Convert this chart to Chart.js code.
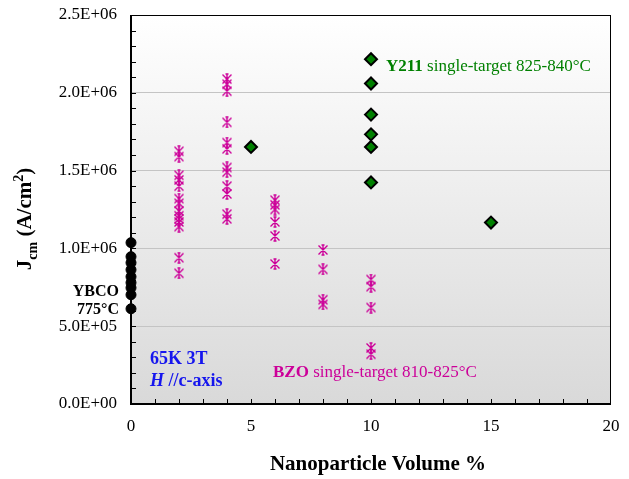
<!DOCTYPE html>
<html><head><meta charset="utf-8">
<script src="https://cdn.jsdelivr.net/npm/chart.js@4/dist/chart.umd.min.js"></script>
<style>html,body{margin:0;padding:0;background:#fff}#wrap{width:629px;height:479px}</style>
</head><body><div id="wrap"><canvas id="c" width="629" height="479"></canvas></div>
<script>
// ---- data ----
const ybcoX = [0,0,0,0,0,0,0,0,0];
const ybcoJc = [1.037e6,0.947e6,0.908e6,0.863e6,0.818e6,0.78e6,0.747e6,0.702e6,0.612e6];

const bzoX = [2,2,2,2,2,2,2,2,2,2,2,2,2,2,
              4,4,4,4,4,4,4,4,4,4,4,4,
              6,6,6,6,6,6,
              8,8,8,8,
              10,10,10,10,10];
const bzoJc = [1.624e6,1.59e6,1.47e6,1.44e6,1.40e6,1.32e6,1.29e6,1.24e6,1.21e6,1.19e6,1.17e6,1.14e6,0.94e6,0.84e6,
               2.088e6,2.055e6,2.01e6,1.81e6,1.68e6,1.64e6,1.52e6,1.49e6,1.40e6,1.35e6,1.22e6,1.19e6,
               1.31e6,1.28e6,1.25e6,1.17e6,1.08e6,0.90e6,
               0.99e6,0.865e6,0.67e6,0.64e6,
               0.80e6,0.754e6,0.62e6,0.36e6,0.32e6];

const y211X = [5,10,10,10,10,10,10,15];
const y211Jc = [1.652e6,2.216e6,2.06e6,1.86e6,1.733e6,1.652e6,1.424e6,1.166e6];

const xTicks = [0,5,10,15,20];
const yTicks = [0,0.5e6,1.0e6,1.5e6,2.0e6,2.5e6];

const SERIF = '"Liberation Serif","Times New Roman",serif';
const BZO_COLOR = '#cc0099';
const Y211_COLOR = '#008000';

function pairs(xs, ys){ return xs.map((x,i)=>({x:x, y:ys[i]})); }
function fmtExp(v){
  if (v === 0) return '0.0E+00';
  const e = Math.floor(Math.log10(v));
  const m = v/Math.pow(10,e);
  return m.toFixed(1)+'E+'+String(e).padStart(2,'0');
}

function makeStar(){
  const c = document.createElement('canvas');
  c.width = 12; c.height = 12;
  const g = c.getContext('2d');
  g.strokeStyle = BZO_COLOR; g.lineWidth = 1.4;
  g.beginPath();
  g.moveTo(1.5,1.5); g.lineTo(10.5,10.5);
  g.moveTo(10.5,1.5); g.lineTo(1.5,10.5);
  g.moveTo(6,0.5); g.lineTo(6,11.5);
  g.moveTo(4.5,1); g.lineTo(7.5,1);
  g.moveTo(4.5,11); g.lineTo(7.5,11);
  g.stroke();
  return c;
}
const star = makeStar();

const decor = {
  id:'decor',
  beforeDraw(chart){
    const {ctx, chartArea:a} = chart;
    const gr = ctx.createLinearGradient(0,a.top,0,a.bottom);
    gr.addColorStop(0,'#ffffff');
    gr.addColorStop(1,'#d9d9d9');
    ctx.save();
    ctx.fillStyle = gr;
    ctx.fillRect(a.left,a.top,a.right-a.left,a.bottom-a.top);
    ctx.restore();
  },
  afterDraw(chart){
    const {ctx, chartArea:a, scales} = chart;
    const xs = scales.x, ys = scales.y;
    ctx.save();
    ctx.strokeStyle = '#000'; ctx.lineWidth = 1;
    ctx.strokeRect(Math.round(a.left)+0.5, Math.round(a.top)+0.5, Math.round(a.right-a.left)-1, Math.round(a.bottom-a.top)-1);
    ctx.lineWidth = 2;
    ctx.beginPath();
    ctx.moveTo(a.left, a.top); ctx.lineTo(a.left, a.bottom);
    ctx.lineTo(a.right, a.bottom);
    ctx.stroke();
    ctx.lineWidth = 1;
    ctx.beginPath();
    for (let v=1; v<20; v++){
      const px = Math.round(xs.getPixelForValue(v))+0.5;
      ctx.moveTo(px, a.bottom); ctx.lineTo(px, a.bottom-5);
    }
    for (let k=1; k<25; k++){
      const py = Math.round(ys.getPixelForValue(k*1e5))+0.5;
      ctx.moveTo(a.left, py); ctx.lineTo(a.left+5, py);
    }
    ctx.stroke();

    ctx.fillStyle = '#000';
    ctx.textBaseline = 'middle';
    ctx.font = 'bold 21px '+SERIF;
    ctx.textAlign = 'center';
    ctx.fillText('Nanoparticle Volume %', 378, 465);

    ctx.save();
    ctx.translate(24, 219);
    ctx.rotate(-Math.PI/2);
    const big = 'bold 21px '+SERIF, small = 'bold 14px '+SERIF;
    const parts = [['J',big,0],['cm',small,6],[' (A/cm',big,0],['2',small,-8],[')',big,0]];
    let total = 0;
    parts.forEach(p=>{ ctx.font=p[1]; total += ctx.measureText(p[0]).width; });
    let x0 = -total/2;
    ctx.textAlign = 'left';
    ctx.textBaseline = 'alphabetic';
    parts.forEach(p=>{ ctx.font=p[1]; ctx.fillText(p[0], x0, 7+p[2]); x0 += ctx.measureText(p[0]).width; });
    ctx.restore();

    ctx.textAlign = 'right';
    ctx.textBaseline = 'middle';
    ctx.font = 'bold 16px '+SERIF;
    ctx.fillText('YBCO', 119, 292);
    ctx.fillText('775°C', 119, 310);

    ctx.textAlign = 'left';
    ctx.fillStyle = '#1515ee';
    ctx.font = 'bold 18px '+SERIF;
    ctx.fillText('65K 3T', 150, 359);
    ctx.font = 'bold italic 18px '+SERIF;
    ctx.fillText('H', 150, 381);
    let w = ctx.measureText('H').width;
    ctx.font = 'bold 18px '+SERIF;
    ctx.fillText(' //c-axis', 150+w, 381);

    ctx.fillStyle = BZO_COLOR;
    ctx.font = 'bold 17px '+SERIF;
    ctx.fillText('BZO', 273, 373);
    w = ctx.measureText('BZO').width;
    ctx.font = '17px '+SERIF;
    ctx.fillText(' single-target 810-825°C', 273+w, 373);

    ctx.fillStyle = Y211_COLOR;
    ctx.font = 'bold 17px '+SERIF;
    ctx.fillText('Y211', 386, 67);
    w = ctx.measureText('Y211').width;
    ctx.font = '17px '+SERIF;
    ctx.fillText(' single-target 825-840°C', 386+w, 67);
    ctx.restore();
  }
};

new Chart(document.getElementById('c'), {
  type:'scatter',
  data:{
    datasets:[
      {label:'YBCO', data:pairs(ybcoX,ybcoJc), pointStyle:'circle', pointRadius:5, backgroundColor:'#000', borderColor:'#000', borderWidth:1, clip:false},
      {label:'BZO', data:pairs(bzoX,bzoJc), pointStyle:star, pointRadius:6, clip:false},
      {label:'Y211', data:pairs(y211X,y211Jc), pointStyle:'rectRot', pointRadius:6, backgroundColor:Y211_COLOR, borderColor:'#000', borderWidth:2, clip:false}
    ]
  },
  options:{
    responsive:false, animation:false,
    layout:{autoPadding:false, padding:{top:15,right:18,left:0,bottom:0}},
    plugins:{legend:{display:false}, tooltip:{enabled:false}},
    scales:{
      x:{type:'linear', min:0, max:20,
         afterFit(s){ s.height = 75; s.paddingLeft = 0; s.paddingRight = 0; },
         afterBuildTicks(s){ s.ticks = xTicks.map(v=>({value:v})); },
         ticks:{font:{family:SERIF,size:17}, color:'#000', padding:12, maxRotation:0},
         grid:{display:false, drawTicks:false}, border:{display:false}},
      y:{type:'linear', min:0, max:2.5e6,
         afterFit(s){ s.width = 131; s.paddingTop = 0; s.paddingBottom = 0; },
         afterBuildTicks(s){ s.ticks = yTicks.map(v=>({value:v})); },
         ticks:{font:{family:SERIF,size:17}, color:'#000', padding:14, callback:(v)=>fmtExp(v)},
         grid:{drawTicks:false, color:(c)=> (c.tick && (c.tick.value===0 || c.tick.value===2.5e6)) ? 'rgba(0,0,0,0)' : '#c4c4c4', lineWidth:1},
         border:{display:false}}
    }
  },
  plugins:[decor]
});
</script>
</body></html>
